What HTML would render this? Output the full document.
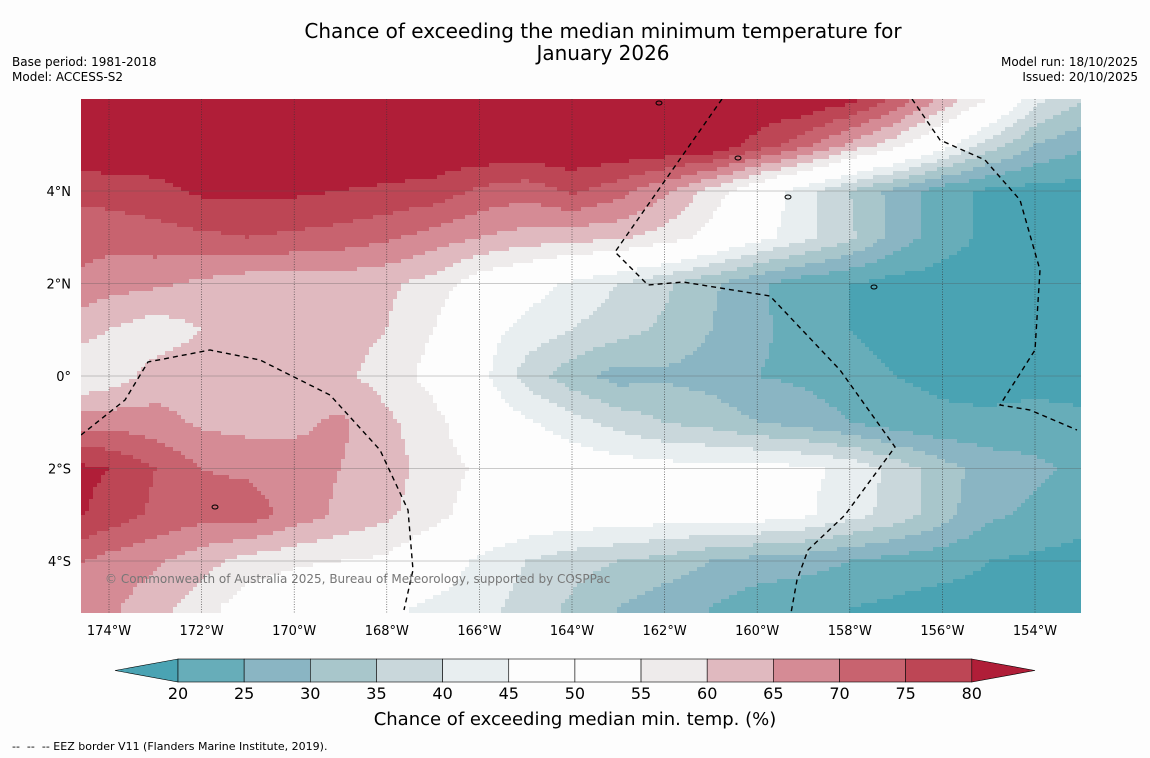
<!DOCTYPE html>
<html><head><meta charset="utf-8">
<style>
body{margin:0;background:#fdfdfd;font-family:"DejaVu Sans","Liberation Sans",sans-serif;}
#wrap{position:relative;width:1150px;height:758px;overflow:hidden;background:#fdfdfd}
.t{position:absolute;color:#000;white-space:nowrap}
</style></head><body>
<div id="wrap">
<div class="t" style="left:0;width:1206px;top:20px;text-align:center;font-size:20px;line-height:22px">Chance of exceeding the median minimum temperature for<br>January 2026</div>
<div class="t" style="left:12px;top:55px;font-size:12px;line-height:15px">Base period: 1981-2018<br>Model: ACCESS-S2</div>
<div class="t" style="right:12px;top:55px;font-size:12px;line-height:15px;text-align:right">Model run: 18/10/2025<br>Issued: 20/10/2025</div>
<svg id="svg" width="1150" height="758" style="position:absolute;left:0;top:0"></svg>
<div class="t" style="left:105px;top:572px;font-size:12px;color:#777">© Commonwealth of Australia 2025, Bureau of Meteorology, supported by COSPPac</div>
<div class="t" style="left:0;width:1150px;text-align:center;top:709px;font-size:18px">Chance of exceeding median min. temp. (%)</div>
<div class="t" style="left:12px;top:740px;font-size:11px">-- &nbsp;-- &nbsp;-- EEZ border V11 (Flanders Marine Institute, 2019).</div>
</div>
<script>
const lons=[-175,-174,-173,-172,-171,-170,-169,-168,-167,-166,-165,-164,-163,-162,-161,-160,-159,-158,-157,-156,-155,-154,-153];
const lats=[6,5,4,3,2,1,0,-1,-2,-3,-4,-5];
const row6=[85,85,85,85,85,85,85,85,85,85,85,85,85,85,85,85,85,82,74,64,55,42,36];
const row5=[85,85,85,85,85,85,85,85,85,85,85,85,85,85,85,78,72,64,57,48,38,30,26];
const row4=[76,77,78,81,81,81,80,79,78,74,72,76,72,66,58,50,42,35,28,22,19,18,18];
const row3=[72,72,73,74,75,74,73,71,68,65,63,62,61,58,53,47,42,36,28,22,19,18,18];
const row2=[70,67,66,64,62,62,62,61,58,52,48,44,40,36,31,26,22,20,18,18,18,18,18];
const row1=[63,60,57,60,62,62,62,60,55,48,43,40,37,34,30,26,23,20,18,18,18,18,18];
const row0=[54,57,62,63,63,62,61,58,53,47,38,32,28,29,28,25,24,22,20,19,18,18,18];
const rowS1=[67,68,67,64,63,64,66,61,57,50,46,42,38,35,33,30,28,25,22,21,21,22,21];
const rowS2=[82,80,75,70,69,67,65,62,58,54,50,49,48,47,47,47,46,44,38,32,28,26,24];
const rowS3=[82,78,74,72,73,68,64,61,57,52,50,49,49,48,48,48,46,42,38,32,26,24,22];
const rowS4=[72,68,66,62,58,56,55,54,49,44,40,37,35,33,30,28,27,25,23,22,20,19,18];
const rowS5=[68,66,62,57,52,50,48,46,44,42,38,34,30,27,25,22,21,20,19,18,18,18,18];
const grid=[row6,row5,row4,row3,row2,row1,row0,rowS1,rowS2,rowS3,rowS4,rowS5];
const levels=[20,25,30,35,40,45,50,55,60,65,70,75,80];
const levelLabels=["20","25","30","35","40","45","50","55","60","65","70","75","80"];
const colors=["#4aa3b3","#67adb9","#8ab5c3","#a8c6cb","#c9d7db","#e8eef0","#fdfdfd","#fdfdfd","#eeebeb","#e0b9bf","#d58b95","#c8636f","#bd4655","#b01e38"];

const NS="http://www.w3.org/2000/svg";
const FONT='DejaVu Sans, Liberation Sans, sans-serif';
const svg=document.getElementById('svg');
function mk(t,a){const e=document.createElementNS(NS,t);for(const k in a)e.setAttribute(k,a[k]);return e;}
const X0=81,X1=1081,Y0=99,Y1=613;
function xOf(lon){return 109+(lon+174)*46.3;}
function yOf(lat){return 376-lat*46.25;}
function lonOf(x){return (x-109)/46.3-174;}
function latOf(y){return (376-y)/46.25;}
function val(lon,lat){
  let fi=(lon-lons[0]);fi=Math.max(0,Math.min(lons.length-1.0001,fi));
  let fj=(lats[0]-lat);fj=Math.max(0,Math.min(lats.length-1.0001,fj));
  const i=Math.floor(fi),j=Math.floor(fj),a=fi-i,b=fj-j;
  return grid[j][i]*(1-a)*(1-b)+grid[j][i+1]*a*(1-b)+grid[j+1][i]*(1-a)*b+grid[j+1][i+1]*a*b;
}
function bin(v){let k=0;while(k<levels.length&&v>=levels[k])k++;return k;}
const clip=mk('clipPath',{id:'mc'});clip.appendChild(mk('rect',{x:X0,y:Y0,width:X1-X0,height:Y1-Y0}));svg.appendChild(clip);
const field=mk('g',{'clip-path':'url(#mc)'});


svg.appendChild(field);
const S=4;
for(let y=Y0;y<Y1;y+=S){
  let runStart=X0,runBin=bin(val(lonOf(X0+S/2),latOf(y+S/2)));
  for(let x=X0+S;x<=X1;x+=S){
    const b=x<X1?bin(val(lonOf(x+S/2),latOf(y+S/2))):-1;
    if(b!==runBin){
      const r=mk('rect',{x:runStart,y:y,width:x-runStart+0.6,height:S+0.6,fill:colors[runBin]});
      
      
      field.appendChild(r);runStart=x;runBin=b;
    }
  }
}
const tickLons=[-174,-172,-170,-168,-166,-164,-162,-160,-158,-156,-154];
const tickLats=[4,2,0,-2,-4];
tickLons.forEach(l=>{
  const x=xOf(l);
  const g=mk('line',{x1:x,x2:x,y1:Y0,y2:Y1,stroke:'#333','stroke-width':0.6,'stroke-dasharray':'1,1.5'});
  
  
  svg.appendChild(g);
  const t=mk('text',{x:x,y:635,'text-anchor':'middle','font-size':13,'font-family':FONT});
  t.textContent=Math.abs(l)+'°W';
  
  
  svg.appendChild(t);
});
tickLats.forEach(l=>{
  const y=yOf(l);
  const g=mk('line',{x1:X0,x2:X1,y1:y,y2:y,stroke:'#555','stroke-width':0.5,'stroke-opacity':0.6});
  
  
  svg.appendChild(g);
  const t=mk('text',{x:71,y:y+5,'text-anchor':'end','font-size':13,'font-family':FONT});
  t.textContent=l===0?'0°':Math.abs(l)+'°'+(l>0?'N':'S');
  
  
  svg.appendChild(t);
});
const eez=[
 "M722,99 L615,252 L648,285 L683,282 L770,296 L840,370 L895,447 L845,515 L808,550 L797,580 L791,613",
 "M912,99 L940,140 L985,160 L1020,200 L1040,270 L1035,350 L1000,405 L1030,410 L1077,430",
 "M81,435 L125,400 L148,362 L210,350 L260,360 L330,395 L380,450 L408,510 L413,570 L404,610"];
eez.forEach(d=>{
  const p=mk('path',{d:d,fill:'none',stroke:'#000','stroke-width':1.4,'stroke-dasharray':'5,4','clip-path':'url(#mc)'});
  
  
  svg.appendChild(p);
});
[[788,197],[874,287],[215,507],[659,103],[738,158]].forEach(c=>{
  const e=mk('ellipse',{cx:c[0],cy:c[1],rx:3,ry:2,fill:'none',stroke:'#000','stroke-width':1});
  
  
  svg.appendChild(e);
});
const cbX0=178,cbW=66.15,cbY=659,cbH=23;
const lt=mk('path',{d:`M${cbX0},${cbY} L115,${cbY+cbH/2} L${cbX0},${cbY+cbH} Z`,fill:colors[0],stroke:'#000','stroke-width':0.6});


svg.appendChild(lt);
for(let k=0;k<levels.length-1;k++){
  const r=mk('rect',{x:cbX0+k*cbW,y:cbY,width:cbW,height:cbH,fill:colors[k+1],stroke:'#000','stroke-width':0.6});
  
  
  svg.appendChild(r);
}
const xe=cbX0+(levels.length-1)*cbW;
const rt=mk('path',{d:`M${xe},${cbY} L1035,${cbY+cbH/2} L${xe},${cbY+cbH} Z`,fill:colors[colors.length-1],stroke:'#000','stroke-width':0.6});


svg.appendChild(rt);
levelLabels.forEach((s,k)=>{
  const t=mk('text',{x:cbX0+k*cbW,y:699,'text-anchor':'middle','font-size':16,'font-family':FONT});
  t.textContent=s;
  
  
  svg.appendChild(t);
});
</script>
</body></html>
